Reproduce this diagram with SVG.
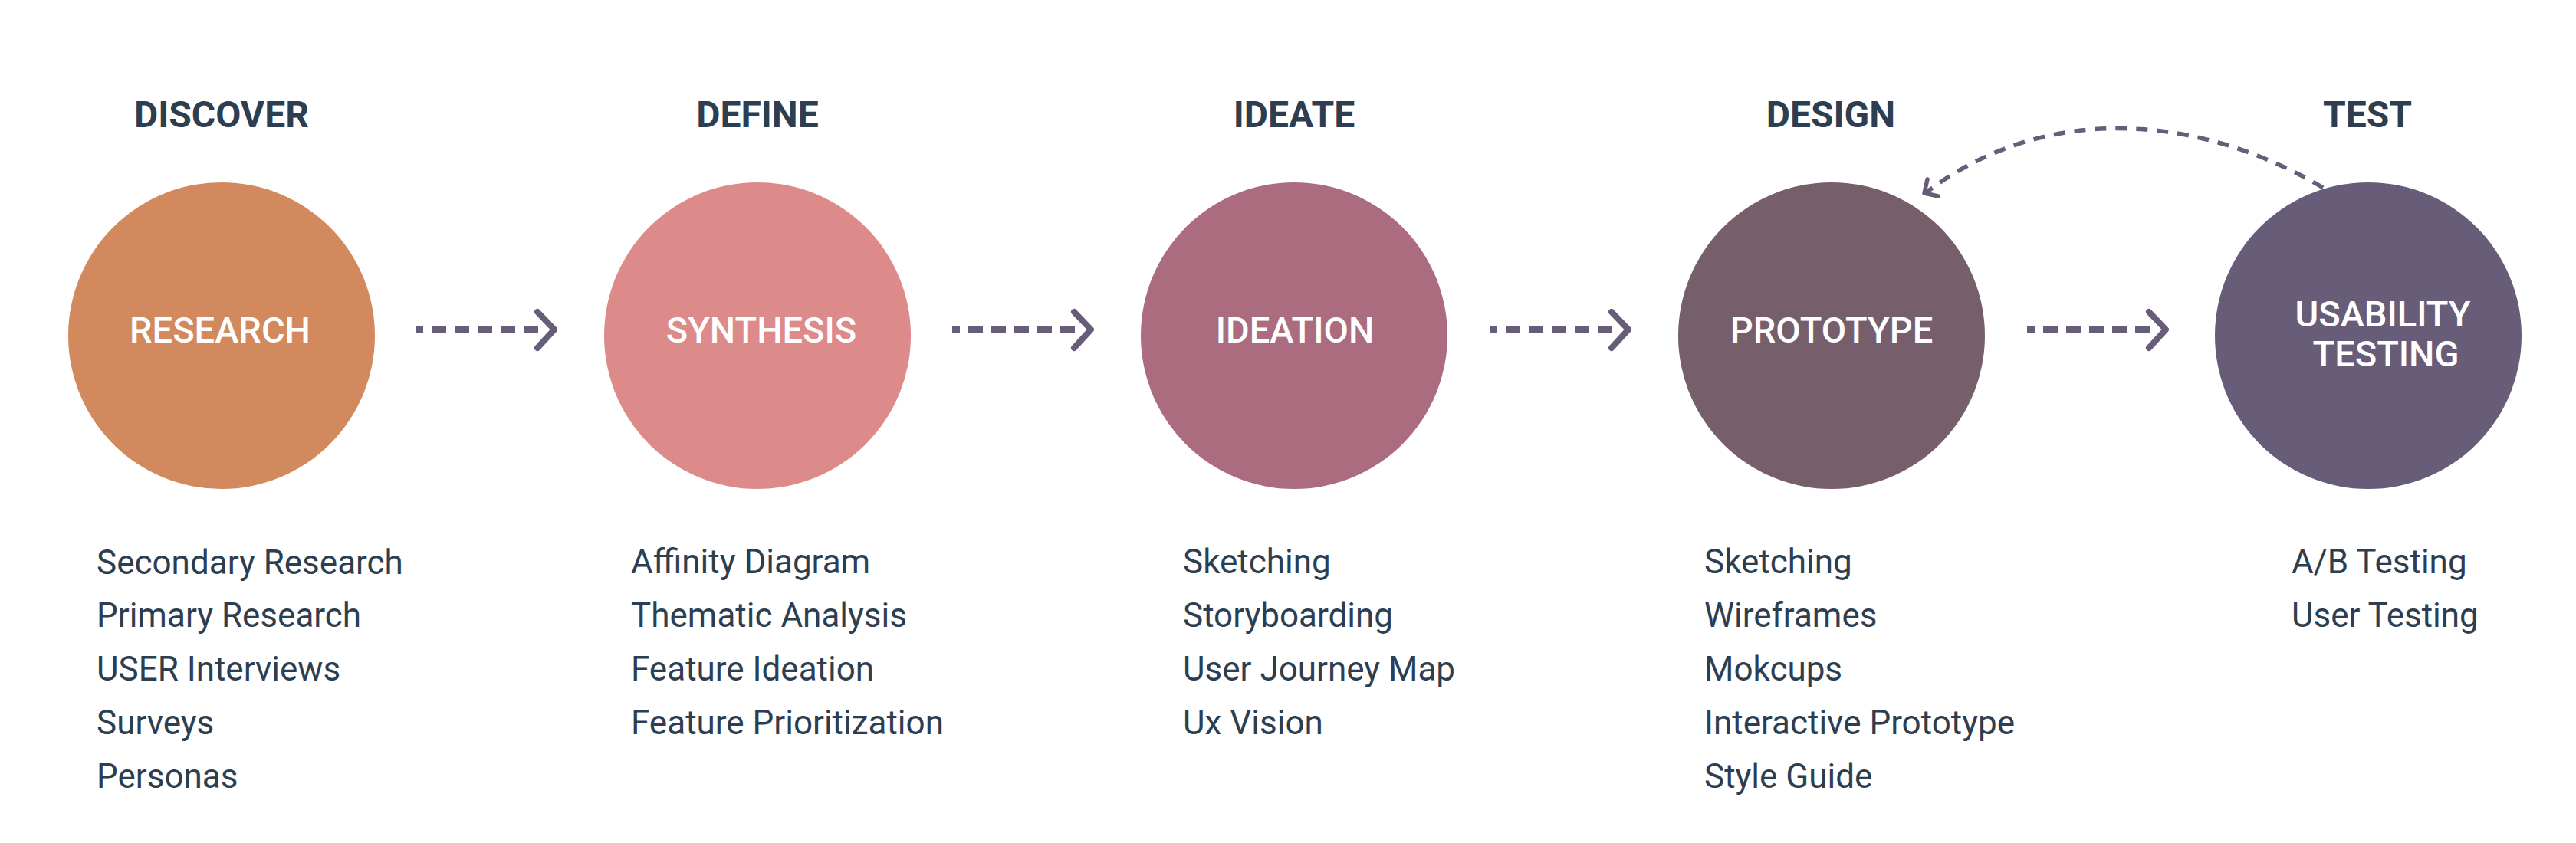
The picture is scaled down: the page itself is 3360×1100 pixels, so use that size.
<svg xmlns="http://www.w3.org/2000/svg" width="3360" height="1100" viewBox="0 0 3360 1100">
<style>
.bg{fill:#ffffff}
.title{font-family:Roboto,"Liberation Sans",sans-serif;font-weight:700;font-size:48px;fill:#2d3e50;text-anchor:middle}
.label{font-family:Roboto,"Liberation Sans",sans-serif;font-weight:500;font-size:47px;fill:#ffffff;text-anchor:middle}
.item{font-family:Roboto,"Liberation Sans",sans-serif;font-weight:400;font-size:44px;fill:#2d3e50}
.dash{fill:none;stroke:#675d78;stroke-width:8;stroke-dasharray:19 11;stroke-dashoffset:9}
.head{fill:none;stroke:#675d78;stroke-width:8;stroke-linecap:round;stroke-linejoin:round}
.curve{fill:none;stroke:#675d78;stroke-width:5.5;stroke-dasharray:15 12}
.chead{fill:none;stroke:#675d78;stroke-width:5.5;stroke-linecap:round;stroke-linejoin:round}
</style>
<rect class="bg" x="0" y="0" width="3360" height="1100"/>

<g id="discover">
<text class="title" x="289" y="166">DISCOVER</text>
<circle cx="289" cy="438" r="200" fill="#d2895d"/>
<text class="label" x="287" y="447">RESEARCH</text>
<text class="item" x="126" y="749">Secondary Research</text>
<text class="item" x="126" y="818">Primary Research</text>
<text class="item" x="126" y="888">USER Interviews</text>
<text class="item" x="126" y="958">Surveys</text>
<text class="item" x="126" y="1028">Personas</text>
</g>

<g id="define">
<text class="title" x="988" y="166">DEFINE</text>
<circle cx="988" cy="438" r="200" fill="#dd8a8b"/>
<text class="label" x="993" y="447">SYNTHESIS</text>
<text class="item" x="823" y="748">Affinity Diagram</text>
<text class="item" x="823" y="818">Thematic Analysis</text>
<text class="item" x="823" y="888">Feature Ideation</text>
<text class="item" x="823" y="958">Feature Prioritization</text>
</g>

<g id="ideate">
<text class="title" x="1688" y="166">IDEATE</text>
<circle cx="1688" cy="438" r="200" fill="#ab6c7f"/>
<text class="label" x="1689" y="447">IDEATION</text>
<text class="item" x="1543" y="748">Sketching</text>
<text class="item" x="1543" y="818">Storyboarding</text>
<text class="item" x="1543" y="888">User Journey Map</text>
<text class="item" x="1543" y="958">Ux Vision</text>
</g>

<g id="design">
<text class="title" x="2388" y="166">DESIGN</text>
<circle cx="2389" cy="438" r="200" fill="#765e6a"/>
<text class="label" x="2389" y="447">PROTOTYPE</text>
<text class="item" x="2223" y="748">Sketching</text>
<text class="item" x="2223" y="818">Wireframes</text>
<text class="item" x="2223" y="888">Mokcups</text>
<text class="item" x="2223" y="958">Interactive Prototype</text>
<text class="item" x="2223" y="1028">Style Guide</text>
</g>

<g id="test">
<text class="title" x="3088" y="166">TEST</text>
<circle cx="3089" cy="438" r="200" fill="#675d78"/>
<text class="label" x="3108" y="426">USABILITY</text>
<text class="label" x="3112" y="478">TESTING</text>
<text class="item" x="2989" y="748">A/B Testing</text>
<text class="item" x="2989" y="818">User Testing</text>
</g>

<g id="connectors">
<line class="dash" x1="542" y1="430" x2="703" y2="430"/>
<path class="head" d="M701,407 L723,430 L701,454"/>
<line class="dash" x1="1242" y1="430" x2="1403" y2="430"/>
<path class="head" d="M1401,407 L1423,430 L1401,454"/>
<line class="dash" x1="1943" y1="430" x2="2104" y2="430"/>
<path class="head" d="M2102,407 L2124,430 L2102,454"/>
<line class="dash" x1="2644" y1="430" x2="2805" y2="430"/>
<path class="head" d="M2803,407 L2825,430 L2803,454"/>
<path class="curve" d="M3030,245 C2871,150 2670,132 2514,250"/>
<path class="chead" d="M2514,234 L2510,252 L2528,256"/>
</g>
</svg>
